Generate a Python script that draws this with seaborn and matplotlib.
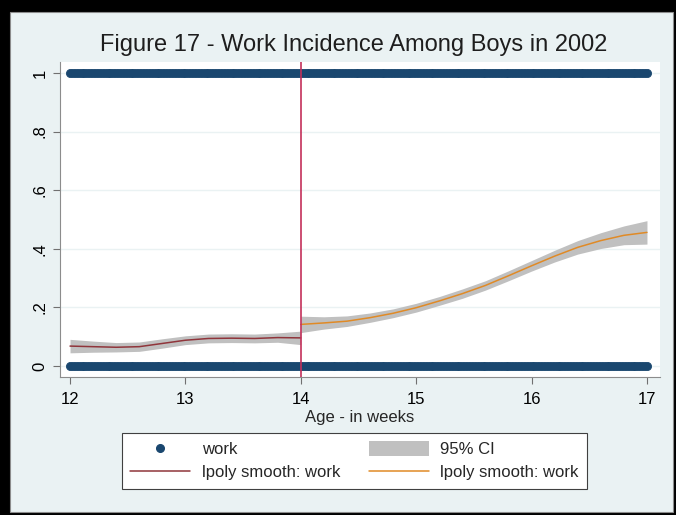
import matplotlib
matplotlib.use("Agg")
import matplotlib.pyplot as plt
from matplotlib.patches import Rectangle
from matplotlib.lines import Line2D
from matplotlib.patches import Patch
import seaborn as sns
import pandas as pd

# observed ages (weeks) of boys, plotted at work = 0 and work = 1
obs_age = [
    12.000, 12.025, 12.050, 12.075, 12.100, 12.125, 12.150, 12.175, 12.200, 12.225,
    12.250, 12.275, 12.300, 12.325, 12.350, 12.375, 12.400, 12.425, 12.450, 12.475,
    12.500, 12.525, 12.550, 12.575, 12.600, 12.625, 12.650, 12.675, 12.700, 12.725,
    12.750, 12.775, 12.800, 12.825, 12.850, 12.875, 12.900, 12.925, 12.950, 12.975,
    13.000, 13.025, 13.050, 13.075, 13.100, 13.125, 13.150, 13.175, 13.200, 13.225,
    13.250, 13.275, 13.300, 13.325, 13.350, 13.375, 13.400, 13.425, 13.450, 13.475,
    13.500, 13.525, 13.550, 13.575, 13.600, 13.625, 13.650, 13.675, 13.700, 13.725,
    13.750, 13.775, 13.800, 13.825, 13.850, 13.875, 13.900, 13.925, 13.950, 13.975,
    14.000, 14.025, 14.050, 14.075, 14.100, 14.125, 14.150, 14.175, 14.200, 14.225,
    14.250, 14.275, 14.300, 14.325, 14.350, 14.375, 14.400, 14.425, 14.450, 14.475,
    14.500, 14.525, 14.550, 14.575, 14.600, 14.625, 14.650, 14.675, 14.700, 14.725,
    14.750, 14.775, 14.800, 14.825, 14.850, 14.875, 14.900, 14.925, 14.950, 14.975,
    15.000, 15.025, 15.050, 15.075, 15.100, 15.125, 15.150, 15.175, 15.200, 15.225,
    15.250, 15.275, 15.300, 15.325, 15.350, 15.375, 15.400, 15.425, 15.450, 15.475,
    15.500, 15.525, 15.550, 15.575, 15.600, 15.625, 15.650, 15.675, 15.700, 15.725,
    15.750, 15.775, 15.800, 15.825, 15.850, 15.875, 15.900, 15.925, 15.950, 15.975,
    16.000, 16.025, 16.050, 16.075, 16.100, 16.125, 16.150, 16.175, 16.200, 16.225,
    16.250, 16.275, 16.300, 16.325, 16.350, 16.375, 16.400, 16.425, 16.450, 16.475,
    16.500, 16.525, 16.550, 16.575, 16.600, 16.625, 16.650, 16.675, 16.700, 16.725,
    16.750, 16.775, 16.800, 16.825, 16.850, 16.875, 16.900, 16.925, 16.950, 16.975,
    17.000,
]
work_values = [0, 1]

# lpoly smooth before 14
age_lo = [12.0, 12.2, 12.4, 12.6, 12.8, 13.0, 13.2, 13.4, 13.6, 13.8, 14.0]
fit_lo = [0.068, 0.066, 0.064, 0.066, 0.077, 0.088, 0.094, 0.095, 0.094, 0.097, 0.096]
ci_lo_low = [0.045, 0.047, 0.048, 0.050, 0.061, 0.073, 0.079, 0.080, 0.079, 0.081, 0.073]
ci_lo_high = [0.091, 0.085, 0.080, 0.082, 0.093, 0.103, 0.109, 0.110, 0.109, 0.113, 0.119]

# lpoly smooth from 14
age_hi = [14.0, 14.2, 14.4, 14.6, 14.8, 15.0, 15.2, 15.4, 15.6, 15.8,
          16.0, 16.2, 16.4, 16.6, 16.8, 17.0]
fit_hi = [0.142, 0.147, 0.153, 0.165, 0.180, 0.199, 0.222, 0.247, 0.275, 0.308,
          0.342, 0.375, 0.405, 0.428, 0.446, 0.456]
ci_hi_low = [0.114, 0.126, 0.135, 0.149, 0.165, 0.184, 0.207, 0.231, 0.259, 0.291,
             0.324, 0.355, 0.382, 0.401, 0.414, 0.416]
ci_hi_high = [0.170, 0.168, 0.171, 0.181, 0.195, 0.214, 0.237, 0.263, 0.291, 0.325,
              0.360, 0.395, 0.428, 0.455, 0.478, 0.496]

cutoff = 14
y_ticks = [0, 0.2, 0.4, 0.6, 0.8, 1]
y_ticklabels = ["0", ".2", ".4", ".6", ".8", "1"]
x_ticks = [12, 13, 14, 15, 16, 17]

NAVY = "#1A476F"
MAROON = "#90353B"
ORANGE = "#E08A26"
CI_GREY = "#C0C0C0"
BG = "#EAF2F3"

sns.set_style("white")
plt.rcParams["font.family"] = ["Liberation Sans", "DejaVu Sans"]

fig = plt.figure(figsize=(6.76, 5.15), dpi=100, facecolor="black")
# inner graph region
fig.patches.append(Rectangle((10 / 676, 3 / 515), 663 / 676, 500 / 515,
                             transform=fig.transFigure, facecolor=BG,
                             edgecolor="#8C8C8C", linewidth=0.8, zorder=-5))
ax = fig.add_axes([60 / 676, 1 - 377 / 515, 600 / 676, 315 / 515])
ax.set_facecolor("white")

obs = pd.DataFrame({
    "age": obs_age * len(work_values),
    "work": [w for w in work_values for _ in obs_age],
})

ax.fill_between(age_lo, ci_lo_low, ci_lo_high, color=CI_GREY, lw=0, zorder=2)
ax.fill_between(age_hi, ci_hi_low, ci_hi_high, color=CI_GREY, lw=0, zorder=2)
sns.scatterplot(data=obs, x="age", y="work", color=NAVY, s=34,
                edgecolor=NAVY, linewidth=0.6, ax=ax, zorder=3)
sns.lineplot(x=age_lo, y=fit_lo, color=MAROON, lw=1.1, ax=ax, zorder=4)
sns.lineplot(x=age_hi, y=fit_hi, color=ORANGE, lw=1.1, ax=ax, zorder=4)
ax.axvline(cutoff, color="#C3305A", lw=1.2, zorder=5)

ax.set_xlim(11.913, 17.113)
ax.set_ylim(-0.0375, 1.0375)
ax.set_yticks(y_ticks)
ax.set_yticklabels(y_ticklabels, rotation=90, va="center")
ax.set_xticks(x_ticks)
ax.tick_params(axis="both", direction="out", length=5, width=0.8,
               color="#707070", labelsize=12, labelcolor="black",
               left=True, bottom=True)
ax.tick_params(axis="x", pad=6)
ax.tick_params(axis="y", pad=4)
ax.yaxis.grid(True, color=BG, lw=1)
ax.set_axisbelow(True)
for side in ["top", "right"]:
    ax.spines[side].set_visible(False)
for side in ["left", "bottom"]:
    ax.spines[side].set_color("#8C8C8C")
    ax.spines[side].set_linewidth(0.8)
ax.set_xlabel("Age - in weeks", fontsize=12, labelpad=2)
ax.set_ylabel("")

fig.text(354 / 676, 1 - 45 / 515, "Figure 17 - Work Incidence Among Boys in 2002",
         ha="center", va="center", fontsize=17, color="#1E1E1E")

handles = [
    Line2D([], [], marker="o", ls="", color=NAVY, markersize=5.5),
    Line2D([], [], color=MAROON, lw=1.1),
    Patch(facecolor=CI_GREY, edgecolor="none"),
    Line2D([], [], color=ORANGE, lw=1.1),
]
labels = ["work", "lpoly smooth: work", "95% CI", "lpoly smooth: work"]
leg = fig.legend(handles, labels, ncol=2, loc="upper left",
                 bbox_to_anchor=(122 / 676, 1 - 433 / 515),
                 fontsize=12, frameon=True, fancybox=False, framealpha=1,
                 edgecolor="#404040", facecolor="white",
                 handlelength=3.6, handleheight=1.0, handletextpad=0.7,
                 columnspacing=1.7, labelspacing=0.4, borderpad=0.5,
                 borderaxespad=0)
leg.get_frame().set_linewidth(0.8)

fig.savefig("out.png", dpi=100, facecolor=fig.get_facecolor())
